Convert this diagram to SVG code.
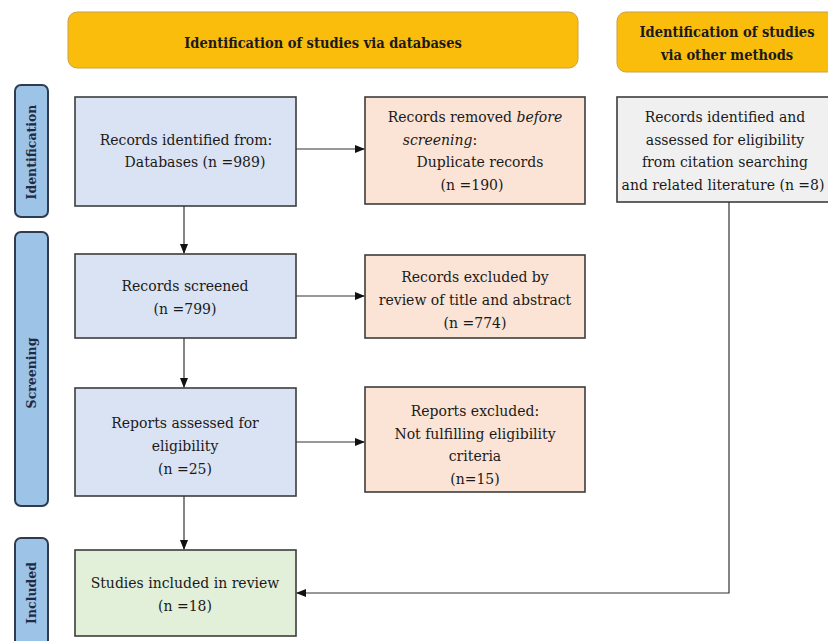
<svg xmlns="http://www.w3.org/2000/svg" width="828" height="641" viewBox="0 0 828 641" font-family="'DejaVu Serif', serif">
<style>
.hdr{fill:#fbbd0c;stroke:#c9a14a;stroke-width:1}
.tab{fill:#9dc3e6;stroke:#2f3b4f;stroke-width:2}
.box{stroke:#3c3c3c;stroke-width:1.6}
.blue{fill:#dae3f3}
.peach{fill:#fbe4d5}
.grey{fill:#f0f0f0}
.green{fill:#e2efd9}
text{font-family:'DejaVu Serif',serif;font-size:14px;fill:#1a1a1a;text-anchor:middle}
.h{font-family:'DejaVu Serif Condensed','DejaVu Serif',serif;font-stretch:condensed;font-weight:bold;font-size:14.5px;fill:#1a1a1a}
.t{font-weight:bold;font-size:12.5px;fill:#1f2a44}
.con{stroke:#333;stroke-width:1.2;fill:none}
</style>
<defs>
<marker id="ah" markerWidth="10" markerHeight="10" refX="9" refY="5" orient="auto" markerUnits="userSpaceOnUse">
<path d="M0,1 L10,5 L0,9 Z" fill="#111"/>
</marker>
</defs>
<g id="header-databases">
<rect class="hdr" x="68" y="12" width="510" height="56" rx="9"/>
<text class="h" x="323" y="48">Identification of studies via databases</text>
</g>
<g id="header-other">
<rect class="hdr" x="617" y="12" width="220" height="60" rx="9"/>
<text class="h" x="727" y="37">Identification of studies</text>
<text class="h" x="727" y="60">via other methods</text>
</g>
<g id="tab-identification">
<rect class="tab" x="15" y="85" width="33" height="132" rx="6"/>
<text class="t" transform="translate(36,152) rotate(-90)">Identification</text>
</g>
<g id="tab-screening">
<rect class="tab" x="15" y="232" width="33" height="274" rx="6"/>
<text class="t" transform="translate(36,373) rotate(-90)">Screening</text>
</g>
<g id="tab-included">
<rect class="tab" x="15" y="538" width="33" height="115" rx="6"/>
<text class="t" transform="translate(36,593) rotate(-90)">Included</text>
</g>
<g id="records-identified">
<rect class="box blue" x="75" y="97" width="221" height="109"/>
<text x="186" y="145">Records identified from:</text>
<text x="195" y="167">Databases (n =989)</text>
</g>
<g id="records-removed">
<rect class="box peach" x="365" y="97" width="220" height="107"/>
<text x="475" y="122">Records removed <tspan font-style="italic">before</tspan></text>
<text x="440" y="145"><tspan font-style="italic">screening</tspan>:</text>
<text x="480" y="167">Duplicate records</text>
<text x="472" y="190">(n =190)</text>
</g>
<g id="records-other">
<rect class="box grey" x="617" y="97" width="220" height="105"/>
<text x="725" y="122">Records identified and</text>
<text x="725" y="145">assessed for eligibility</text>
<text x="725" y="167">from citation searching</text>
<text x="723" y="190">and related literature (n =8)</text>
</g>
<g id="records-screened">
<rect class="box blue" x="75" y="254" width="221" height="84"/>
<text x="185" y="291">Records screened</text>
<text x="185" y="314">(n =799)</text>
</g>
<g id="records-excluded">
<rect class="box peach" x="365" y="255" width="220" height="83"/>
<text x="475" y="282">Records excluded by</text>
<text x="475" y="305">review of title and abstract</text>
<text x="475" y="328">(n =774)</text>
</g>
<g id="reports-assessed">
<rect class="box blue" x="75" y="388" width="221" height="108"/>
<text x="185" y="428">Reports assessed for</text>
<text x="185" y="451">eligibility</text>
<text x="185" y="474">(n =25)</text>
</g>
<g id="reports-excluded">
<rect class="box peach" x="365" y="387" width="220" height="105"/>
<text x="475" y="416">Reports excluded:</text>
<text x="475" y="439">Not fulfilling eligibility</text>
<text x="475" y="461">criteria</text>
<text x="475" y="484">(n=15)</text>
</g>
<g id="studies-included">
<rect class="box green" x="75" y="550" width="221" height="86"/>
<text x="185" y="588">Studies included in review</text>
<text x="185" y="611">(n =18)</text>
</g>
<g id="connectors">
<line class="con" x1="296" y1="149" x2="364" y2="149" marker-end="url(#ah)"/>
<line class="con" x1="184" y1="206" x2="184" y2="253" marker-end="url(#ah)"/>
<line class="con" x1="296" y1="296" x2="364" y2="296" marker-end="url(#ah)"/>
<line class="con" x1="184" y1="338" x2="184" y2="387" marker-end="url(#ah)"/>
<line class="con" x1="296" y1="442" x2="364" y2="442" marker-end="url(#ah)"/>
<line class="con" x1="184" y1="496" x2="184" y2="549" marker-end="url(#ah)"/>
<polyline class="con" points="729,202 729,593 297,593" marker-end="url(#ah)"/>
</g>
</svg>
